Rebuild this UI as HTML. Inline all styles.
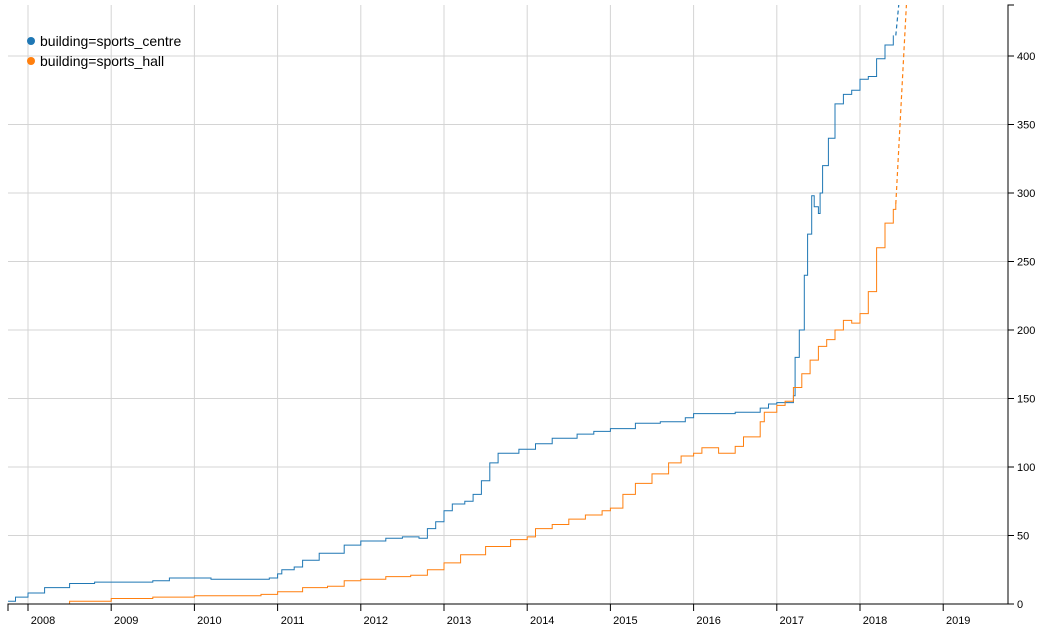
<!DOCTYPE html>
<html><head><meta charset="utf-8"><style>
body{margin:0;background:#fff;}
svg{display:block;font-family:"Liberation Sans",Arial,sans-serif;}
</style></head><body>
<svg id="chart" width="1051" height="640" viewBox="0 0 1051 640">
<g id="grid"></g>
<g id="series"></g>
<g id="axes"></g>
<g id="legend"></g>
</svg>
<script>
const yTicks=[0,50,100,150,200,250,300,350,400];
const xYears=[2008,2009,2010,2011,2012,2013,2014,2015,2016,2017,2018,2019];
const centreT=[2007.76,2007.85,2008.0,2008.2,2008.5,2008.8,2009.5,2009.7,2010.2,2010.9,2011.0,2011.05,2011.2,2011.3,2011.5,2011.8,2012.0,2012.3,2012.5,2012.7,2012.8,2012.9,2013.0,2013.1,2013.25,2013.35,2013.45,2013.55,2013.65,2013.9,2014.1,2014.3,2014.6,2014.8,2015.0,2015.3,2015.6,2015.9,2016.0,2016.5,2016.8,2016.9,2017.0,2017.2,2017.22,2017.27,2017.33,2017.37,2017.42,2017.45,2017.5,2017.52,2017.55,2017.62,2017.7,2017.8,2017.9,2018.0,2018.1,2018.2,2018.3,2018.4];
const centreV=[2,5,8,12,15,16,17,19,18,19,22,25,27,32,37,43,46,48,49,48,55,60,68,73,75,80,90,103,110,113,117,121,124,126,128,132,133,136,139,140,143,146,147,152,180,200,240,270,298,290,285,300,320,340,365,372,375,383,385,398,408,415];
const hallT=[2007.76,2008.5,2009.0,2009.5,2010.0,2010.8,2011.0,2011.3,2011.6,2011.8,2012.0,2012.3,2012.6,2012.8,2013.0,2013.2,2013.5,2013.8,2014.0,2014.1,2014.3,2014.5,2014.7,2014.9,2015.0,2015.15,2015.3,2015.5,2015.7,2015.85,2016.0,2016.1,2016.3,2016.5,2016.6,2016.8,2016.85,2017.0,2017.1,2017.2,2017.3,2017.4,2017.5,2017.6,2017.7,2017.8,2017.9,2018.0,2018.1,2018.2,2018.3,2018.4,2018.43];
const hallV=[0,2,4,5,6,7,9,12,13,17,18,20,21,25,30,36,42,47,49,55,58,62,65,68,70,80,88,95,103,108,110,114,110,115,122,133,140,145,148,158,168,178,188,193,200,207,205,212,228,260,278,288,292];
const centreDash=[[2018.43,415],[2018.47,440]];
const hallDash=[[2018.43,292],[2018.56,440]];
const X=t=>28+(t-2008)*83.2;
const Y=v=>604-v*1.37;
const NS='http://www.w3.org/2000/svg';
function mk(tag,attrs,parent){const e=document.createElementNS(NS,tag);for(const k in attrs)e.setAttribute(k,attrs[k]);parent.appendChild(e);return e;}
const grid=document.getElementById('grid'),axes=document.getElementById('axes'),series=document.getElementById('series'),legend=document.getElementById('legend');
yTicks.forEach(v=>{
 const l=mk('line',{x1:8,x2:1008,y1:Y(v),y2:Y(v),stroke:'#d4d4d4','stroke-width':1},grid);
 
 
 const tk=mk('line',{x1:1008,x2:1014,y1:Y(v),y2:Y(v),stroke:'#000'},axes);
 
 
 const t=mk('text',{x:1017,y:Y(v)+4,'font-size':11,fill:'#000'},axes);t.textContent=v;
 
 
});
xYears.forEach(yr=>{
 const l=mk('line',{x1:X(yr),x2:X(yr),y1:5,y2:604,stroke:'#d4d4d4','stroke-width':1},grid);
 
 
 const tk=mk('line',{x1:X(yr),x2:X(yr),y1:604,y2:611,stroke:'#000'},axes);
 
 
 const t=mk('text',{x:X(yr)+15,y:624,'font-size':11,'text-anchor':'middle',fill:'#000'},axes);t.textContent=yr;
 
 
});
const xa=mk('path',{d:'M8,611V604H1008',fill:'none',stroke:'#000'},axes);


const ya=mk('path',{d:'M1014,5H1008V604H1014',fill:'none',stroke:'#000'},axes);


function stepPath(T,V){let d='M'+X(T[0])+','+Y(V[0]);for(let i=1;i<T.length;i++){d+='H'+X(T[i]).toFixed(1)+'V'+Y(V[i]).toFixed(1);}return d;}
function dashPath(P){return 'M'+P.map(p=>X(p[0]).toFixed(1)+','+Y(p[1]).toFixed(1)).join('L');}
const clip=mk('clipPath',{id:'pc'},mk('defs',{},series));mk('rect',{x:8,y:5,width:1000,height:600},clip);
const sc=mk('path',{d:stepPath(centreT,centreV),fill:'none',stroke:'#1f77b4','stroke-width':1,'clip-path':'url(#pc)'},series);


const sh=mk('path',{d:stepPath(hallT,hallV),fill:'none',stroke:'#ff7f0e','stroke-width':1,'clip-path':'url(#pc)'},series);


const dc=mk('path',{d:dashPath(centreDash),fill:'none',stroke:'#1f77b4','stroke-width':1.2,'stroke-dasharray':'4,3','clip-path':'url(#pc)'},series);


const dh=mk('path',{d:dashPath(hallDash),fill:'none',stroke:'#ff7f0e','stroke-width':1.2,'stroke-dasharray':'4,3','clip-path':'url(#pc)'},series);


[['building=sports_centre','#1f77b4',41],['building=sports_hall','#ff7f0e',61]].forEach(([lab,c,y])=>{
 const g=mk('g',{},legend);
 
 
 mk('circle',{cx:31,cy:y,r:4,fill:c},g);
 const t=mk('text',{x:40,y:y+5,'font-size':14,fill:'#000'},g);t.textContent=lab;
});
</script>
</body></html>
